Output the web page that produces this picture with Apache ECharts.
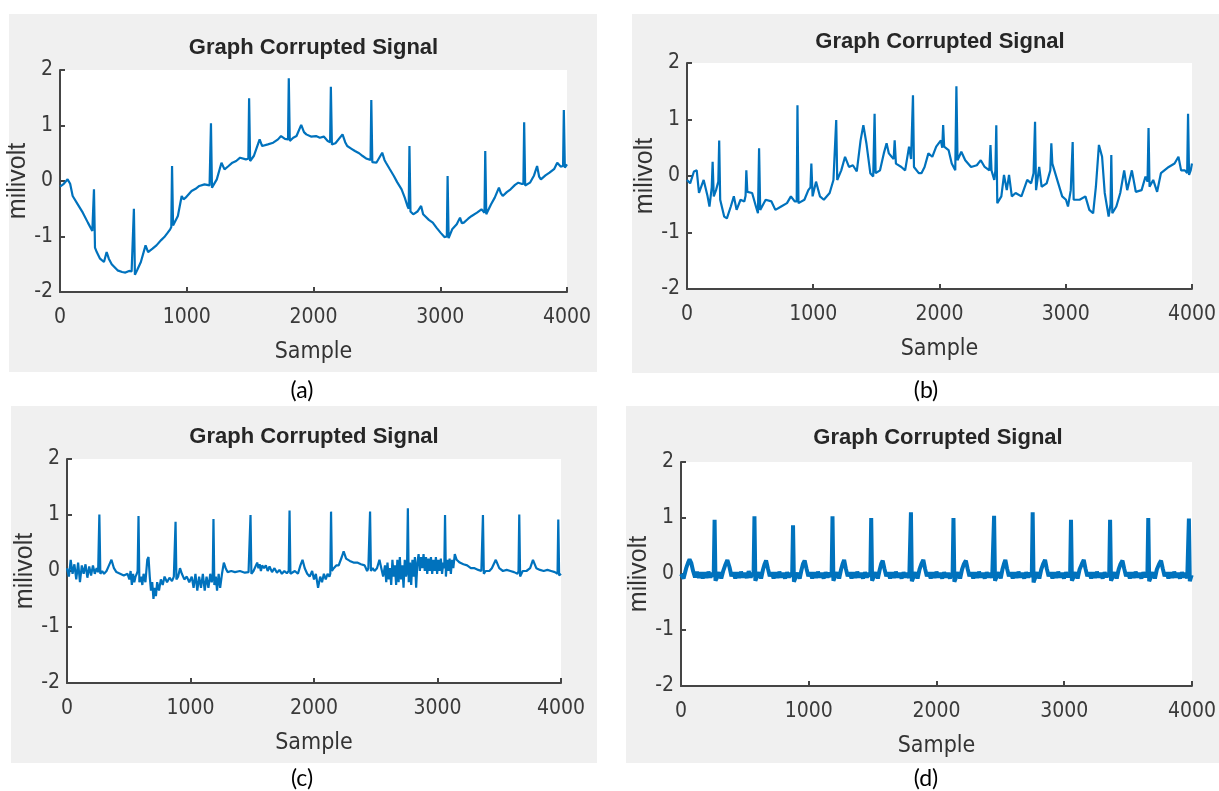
<!DOCTYPE html>
<html>
<head>
<meta charset="utf-8">
<title>Graph Corrupted Signal</title>
<script src="https://cdn.jsdelivr.net/npm/echarts@6/dist/echarts.min.js"></script>
<style>
  html, body { margin: 0; padding: 0; background: #fff; }
  #main { width: 1219px; height: 791px; }
</style>
</head>
<body>
<div id="main"></div>
<script>
// x ticks, y ticks
const sampleTicks = [0, 1000, 2000, 3000, 4000]
const voltTicks = [-2, -1, 0, 1, 2]
const captions = ['(a)', '(b)', '(c)', '(d)']

// (a) baseline wander
const signalA = [
  [0,-0.1],[30,-0.05],[60,0.03],[80,-0.05],[100,-0.27],[140,-0.42],[180,-0.57],[220,-0.75],[255,-0.9],
  [262,-0.93],[268,-0.15],[276,-1.2],[290,-1.28],[316,-1.4],[347,-1.46],[368,-1.28],[385,-1.4],[408,-1.5],
  [454,-1.61],[490,-1.64],[516,-1.65],[545,-1.62],[565,-1.63],[575,-1.66],[583,-0.5],[591,-1.69],[610,-1.6],
  [638,-1.46],[675,-1.16],[695,-1.28],[730,-1.22],[761,-1.16],[800,-1.06],[823,-1.01],[850,-0.93],[869,-0.87],
  [878,-0.83],[884,0.27],[892,-0.8],[930,-0.63],[960,-0.27],[975,-0.33],[991,-0.3],[1038,-0.18],[1070,-0.14],
  [1099,-0.09],[1140,-0.06],[1180,-0.08],[1185,-0.1],[1191,1.04],[1199,-0.12],[1237,0.03],[1274,0.33],[1298,0.21],
  [1330,0.27],[1360,0.33],[1390,0.36],[1421,0.42],[1467,0.39],[1486,0.4],[1492,1.49],[1500,0.36],[1529,0.45],
  [1575,0.75],[1595,0.63],[1640,0.66],[1682,0.69],[1720,0.75],[1744,0.81],[1775,0.76],[1799,0.75],[1805,1.85],
  [1813,0.72],[1840,0.78],[1866,0.81],[1903,1.01],[1925,0.88],[1943,0.84],[1980,0.8],[2020,0.81],[2050,0.78],
  [2081,0.8],[2112,0.72],[2131,0.7],[2137,1.7],[2145,0.66],[2173,0.68],[2229,0.84],[2250,0.7],[2266,0.63],
  [2300,0.58],[2327,0.54],[2360,0.5],[2388,0.45],[2420,0.4],[2450,0.38],[2456,1.46],[2464,0.34],[2496,0.33],
  [2542,0.51],[2560,0.38],[2572,0.33],[2600,0.22],[2634,0.09],[2660,-0.02],[2695,-0.15],[2720,-0.3],[2741,-0.45],
  [2751,-0.5],[2757,0.63],[2765,-0.55],[2787,-0.6],[2820,-0.55],[2849,-0.45],[2865,-0.6],[2879,-0.63],[2910,-0.7],
  [2941,-0.75],[2970,-0.84],[3002,-0.93],[3033,-1.01],[3052,-1.0],[3058,0.09],[3066,-1.03],[3094,-0.87],[3130,-0.78],
  [3156,-0.66],[3170,-0.76],[3186,-0.75],[3220,-0.68],[3248,-0.63],[3290,-0.57],[3325,-0.51],[3349,-0.57],[3355,0.54],
  [3363,-0.6],[3401,-0.42],[3430,-0.3],[3463,-0.12],[3478,-0.22],[3493,-0.27],[3525,-0.2],[3555,-0.15],[3590,-0.07],
  [3616,-0.03],[3640,-0.05],[3656,-0.05],[3662,1.06],[3670,-0.08],[3708,-0.03],[3740,0.1],[3764,0.27],[3780,0.08],
  [3794,0.03],[3830,0.1],[3862,0.15],[3900,0.22],[3923,0.33],[3950,0.26],[3969,0.27],[3975,1.28],[3983,0.24],[4000,0.3]
]

// (b) motion artefact
const signalB = [
  [0,-0.07],[25,-0.13],[55,0.08],[77,0.1],[95,-0.3],[117,-0.16],[132,-0.07],[163,-0.36],[178,-0.54],[196,-0.2],
  [203,0.25],[212,-0.36],[230,-0.25],[248,-0.1],[255,0.63],[263,-0.42],[295,-0.72],[316,-0.75],[347,-0.54],[371,-0.36],
  [393,-0.6],[424,-0.42],[454,-0.45],[464,-0.35],[470,0.1],[478,-0.28],[516,-0.3],[546,-0.54],[562,-0.66],[571,0.49],
  [580,-0.6],[623,-0.42],[669,-0.45],[700,-0.6],[746,-0.54],[792,-0.48],[823,-0.36],[853,-0.45],[869,-0.45],[875,1.25],
  [883,-0.48],[930,-0.42],[961,-0.25],[978,-0.2],[985,0.22],[995,-0.36],[1022,-0.1],[1053,-0.36],[1084,-0.42],[1130,-0.3],
  [1160,-0.07],[1175,-0.1],[1182,0.99],[1190,-0.07],[1222,0.1],[1252,0.34],[1283,0.16],[1314,0.19],[1345,0.08],[1375,0.63],
  [1397,0.9],[1421,0.58],[1452,0.05],[1475,-0.01],[1486,1.1],[1494,0.05],[1529,0.1],[1559,0.4],[1581,0.58],[1599,0.4],
  [1621,0.34],[1637,0.3],[1645,0.63],[1655,0.22],[1698,0.16],[1728,0.1],[1759,0.52],[1775,0.3],[1790,1.43],[1798,0.16],
  [1836,0.05],[1857,0.05],[1882,0.16],[1912,0.4],[1943,0.34],[1974,0.52],[2011,0.63],[2022,0.5],[2029,0.9],[2037,0.52],
  [2072,0.46],[2097,0.22],[2125,0.1],[2134,1.59],[2143,0.28],[2173,0.43],[2204,0.28],[2250,0.16],[2296,0.19],[2327,0.28],
  [2358,0.16],[2395,0.1],[2404,0.55],[2412,0.1],[2434,-0.07],[2443,0.1],[2450,0.9],[2458,-0.48],[2490,-0.36],[2511,0.02],
  [2533,-0.25],[2551,0.02],[2573,-0.36],[2603,-0.3],[2649,-0.36],[2695,-0.07],[2726,-0.13],[2745,0.05],[2757,0.96],[2765,-0.25],
  [2790,0.16],[2809,-0.19],[2849,-0.13],[2878,0.1],[2886,0.58],[2894,0.22],[2941,-0.13],[2972,-0.36],[3002,-0.42],[3018,-0.54],
  [3040,-0.25],[3055,0.6],[3063,-0.42],[3110,-0.42],[3156,-0.36],[3187,-0.6],[3217,-0.66],[3239,-0.19],[3263,0.55],[3288,0.34],
  [3309,-0.3],[3340,-0.72],[3355,-0.5],[3361,0.37],[3369,-0.66],[3401,-0.54],[3432,-0.3],[3463,0.1],[3487,-0.25],[3524,0.1],
  [3555,-0.28],[3601,-0.25],[3632,-0.01],[3648,-0.1],[3656,0.85],[3664,-0.19],[3693,-0.07],[3724,-0.28],[3754,0.05],[3816,0.16],
  [3862,0.22],[3893,0.34],[3914,0.1],[3944,0.1],[3962,0.05],[3969,1.1],[3977,0.02],[3990,0.1],[4000,0.22]
]

// (c) muscle noise
const signalC = [
  [0,0.05],[15,-0.1],[30,0.2],[45,-0.05],[60,0.12],[75,-0.15],[90,0.15],[105,-0.2],[120,0.1],[135,-0.05],
  [150,0.12],[165,-0.12],[180,0.08],[195,-0.08],[210,0.1],[225,-0.05],[240,0.05],[252,-0.02],[262,1.01],[270,-0.05],
  [285,0.0],[300,-0.05],[320,0.0],[340,0.1],[360,0.2],[380,0.05],[400,-0.02],[430,-0.05],[460,-0.08],[490,-0.05],
  [505,-0.15],[515,0.0],[525,-0.25],[535,-0.05],[545,-0.2],[555,-0.1],[565,-0.05],[572,0.0],[579,0.98],[586,-0.2],
  [600,-0.1],[610,-0.25],[620,-0.05],[635,-0.2],[650,0.2],[660,0.25],[670,-0.1],[680,-0.35],[690,-0.2],[700,-0.5],
  [710,-0.3],[720,-0.45],[730,-0.2],[745,-0.35],[760,-0.15],[775,-0.25],[790,-0.1],[810,-0.2],[830,-0.12],[850,-0.18],
  [865,-0.1],[872,-0.12],[879,0.88],[886,-0.15],[900,-0.1],[915,0.05],[930,-0.05],[950,-0.15],[970,-0.1],[990,-0.2],
  [1010,-0.1],[1025,-0.3],[1040,-0.05],[1055,-0.35],[1070,-0.1],[1085,-0.3],[1100,-0.05],[1115,-0.35],[1130,-0.1],[1145,-0.3],
  [1160,-0.05],[1172,-0.2],[1180,-0.1],[1186,0.93],[1193,-0.25],[1205,-0.1],[1215,-0.35],[1228,-0.05],[1240,-0.3],[1255,-0.05],
  [1270,0.15],[1285,0.05],[1300,-0.02],[1330,0.0],[1360,-0.02],[1400,0.0],[1440,-0.03],[1470,-0.02],[1480,0.0],[1486,1.0],
  [1493,-0.05],[1510,0.0],[1540,0.15],[1550,0.05],[1560,0.12],[1570,0.0],[1580,0.1],[1595,0.05],[1610,0.1],[1625,0.0],
  [1640,0.08],[1660,-0.02],[1680,0.05],[1700,-0.03],[1720,0.02],[1740,-0.05],[1760,0.0],[1780,-0.04],[1795,0.0],[1802,1.08],
  [1809,-0.05],[1825,-0.02],[1845,0.0],[1870,-0.05],[1890,0.1],[1907,0.2],[1925,0.05],[1945,-0.05],[1965,-0.1],[1985,0.0],
  [2000,-0.15],[2015,-0.05],[2033,-0.3],[2050,-0.1],[2065,-0.2],[2080,-0.05],[2095,-0.15],[2110,-0.05],[2125,-0.1],[2132,-0.05],
  [2138,1.06],[2145,0.0],[2160,0.05],[2180,0.1],[2200,0.1],[2225,0.25],[2240,0.35],[2260,0.22],[2290,0.18],[2320,0.15],
  [2350,0.15],[2380,0.12],[2410,0.1],[2430,0.0],[2440,0.05],[2448,0.02],[2454,1.06],[2461,0.0],[2475,0.05],[2490,0.0],
  [2510,0.05],[2530,0.2],[2545,0.05],[2560,-0.1],[2575,0.1],[2585,-0.2],[2595,0.15],[2605,-0.15],[2615,0.05],[2625,-0.25],
  [2635,0.2],[2645,-0.1],[2655,0.1],[2665,-0.25],[2675,0.2],[2685,-0.2],[2695,0.25],[2705,-0.15],[2715,0.1],[2725,-0.3],
  [2735,0.2],[2745,-0.1],[2753,0.0],[2760,1.12],[2767,-0.2],[2777,0.15],[2787,-0.25],[2797,0.2],[2807,-0.1],[2817,0.25],
  [2827,-0.3],[2837,0.15],[2847,0.3],[2857,0.0],[2867,0.25],[2877,0.05],[2887,0.3],[2897,0.0],[2907,0.25],[2917,-0.05],
  [2927,0.22],[2937,0.0],[2947,0.25],[2957,-0.05],[2967,0.2],[2977,0.0],[2987,0.25],[2997,-0.05],[3007,0.2],[3017,0.0],
  [3027,0.22],[3037,-0.05],[3047,0.15],[3055,0.05],[3061,1.0],[3068,-0.1],[3078,0.2],[3088,0.0],[3098,0.22],[3108,-0.05],
  [3118,0.2],[3128,0.05],[3140,0.3],[3155,0.2],[3180,0.15],[3210,0.12],[3240,0.1],[3270,0.05],[3300,0.05],[3330,0.02],
  [3355,0.0],[3362,0.0],[3368,1.0],[3375,-0.05],[3390,0.0],[3420,0.0],[3440,0.05],[3472,0.2],[3500,0.05],[3530,0.0],
  [3560,0.02],[3590,0.0],[3620,-0.02],[3648,-0.05],[3656,0.0],[3662,1.01],[3669,-0.1],[3690,0.0],[3720,0.0],[3750,0.05],
  [3773,0.2],[3800,0.05],[3830,0.02],[3860,0.0],[3890,0.02],[3920,0.0],[3950,-0.02],[3965,-0.05],[3972,-0.05],[3978,0.92],
  [3985,-0.08],[4000,-0.05]
]

// (d) white noise
const signalD = [
  [0,0.0],[20,-0.08],[40,0.1],[55,0.2],[67,0.26],[80,0.2],[95,0.05],[110,-0.06],[125,0.04],[140,-0.07],
  [155,0.03],[170,-0.08],[185,0.03],[200,-0.07],[215,0.04],[230,-0.06],[245,0.02],[256,-0.05],[263,0.97],[270,-0.12],
  [285,-0.05],[300,0.03],[315,-0.08],[330,0.05],[345,0.15],[363,0.25],[380,0.12],[395,-0.04],[410,0.03],[425,-0.08],
  [440,0.03],[455,-0.07],[470,0.04],[485,-0.06],[500,0.02],[515,-0.07],[530,0.05],[545,-0.06],[560,0.02],[568,-0.04],
  [575,1.03],[582,-0.12],[597,-0.04],[612,0.03],[627,-0.08],[642,0.08],[655,0.18],[666,0.24],[680,0.1],[695,-0.04],
  [710,0.03],[725,-0.08],[740,0.03],[755,-0.07],[770,0.04],[785,-0.06],[800,0.02],[815,-0.08],[830,0.03],[845,-0.06],
  [860,0.02],[870,-0.05],[877,0.87],[884,-0.14],[899,-0.05],[914,0.02],[929,-0.08],[944,0.08],[955,0.18],[968,0.24],
  [982,0.1],[997,-0.04],[1012,0.03],[1027,-0.08],[1042,0.03],[1057,-0.07],[1072,0.04],[1087,-0.06],[1102,0.02],[1117,-0.08],
  [1132,0.03],[1147,-0.06],[1162,0.02],[1179,-0.05],[1186,1.03],[1193,-0.12],[1208,-0.04],[1223,0.03],[1238,-0.08],[1253,0.08],
  [1265,0.18],[1277,0.25],[1290,0.1],[1305,-0.04],[1320,0.03],[1335,-0.08],[1350,0.03],[1365,-0.07],[1380,0.04],[1395,-0.06],
  [1410,0.02],[1425,-0.08],[1440,0.03],[1455,-0.06],[1470,0.02],[1482,-0.05],[1489,1.0],[1496,-0.12],[1511,-0.04],[1526,0.03],
  [1541,-0.08],[1556,0.08],[1567,0.18],[1579,0.24],[1592,0.1],[1607,-0.04],[1622,0.03],[1637,-0.08],[1652,0.03],[1667,-0.07],
  [1682,0.04],[1697,-0.06],[1712,0.02],[1727,-0.08],[1742,0.03],[1757,-0.06],[1772,0.02],[1787,-0.07],[1793,-0.05],[1800,1.1],
  [1807,-0.13],[1822,-0.05],[1837,0.03],[1852,-0.08],[1867,0.08],[1882,0.18],[1897,0.25],[1910,0.1],[1925,-0.04],[1940,0.03],
  [1955,-0.08],[1970,0.03],[1985,-0.07],[2000,0.04],[2015,-0.06],[2030,0.02],[2045,-0.08],[2060,0.03],[2075,-0.06],[2090,0.02],
  [2105,-0.08],[2118,0.02],[2126,-0.05],[2133,1.0],[2140,-0.14],[2155,-0.05],[2170,0.03],[2185,-0.08],[2200,0.08],[2215,0.18],
  [2230,0.24],[2243,0.1],[2258,-0.04],[2273,0.03],[2288,-0.08],[2303,0.03],[2318,-0.07],[2333,0.04],[2348,-0.06],[2363,0.02],
  [2378,-0.08],[2393,0.03],[2408,-0.06],[2423,0.02],[2436,-0.07],[2444,-0.05],[2451,1.04],[2458,-0.12],[2473,-0.04],[2488,0.03],
  [2503,-0.08],[2516,0.08],[2528,0.18],[2539,0.25],[2552,0.1],[2567,-0.04],[2582,0.03],[2597,-0.08],[2612,0.03],[2627,-0.07],
  [2642,0.04],[2657,-0.06],[2672,0.02],[2687,-0.08],[2702,0.03],[2717,-0.06],[2732,0.02],[2746,-0.05],[2753,1.1],[2760,-0.15],
  [2775,-0.05],[2790,0.03],[2805,-0.08],[2820,0.08],[2835,0.18],[2850,0.25],[2863,0.1],[2878,-0.04],[2893,0.03],[2908,-0.08],
  [2923,0.03],[2938,-0.07],[2953,0.04],[2968,-0.06],[2983,0.02],[2998,-0.08],[3013,0.03],[3028,-0.06],[3040,0.02],[3046,-0.05],
  [3053,0.97],[3060,-0.12],[3075,-0.05],[3090,0.03],[3105,-0.08],[3120,0.08],[3138,0.18],[3153,0.25],[3166,0.1],[3181,-0.04],
  [3196,0.03],[3211,-0.08],[3226,0.03],[3241,-0.07],[3256,0.04],[3271,-0.06],[3286,0.02],[3301,-0.08],[3316,0.03],[3331,-0.06],
  [3344,0.02],[3352,-0.05],[3359,0.97],[3366,-0.12],[3381,-0.05],[3396,0.03],[3411,-0.08],[3426,0.08],[3441,0.18],[3456,0.24],
  [3469,0.1],[3484,-0.04],[3499,0.03],[3514,-0.08],[3529,0.03],[3544,-0.07],[3559,0.04],[3574,-0.06],[3589,0.02],[3604,-0.08],
  [3619,0.03],[3634,-0.06],[3645,0.02],[3651,-0.05],[3658,1.0],[3665,-0.13],[3680,-0.05],[3695,0.03],[3710,-0.08],[3725,0.08],
  [3743,0.18],[3758,0.24],[3771,0.1],[3786,-0.04],[3801,0.03],[3816,-0.08],[3831,0.03],[3846,-0.07],[3861,0.04],[3876,-0.06],
  [3891,0.02],[3906,-0.08],[3921,0.03],[3936,-0.06],[3951,0.02],[3963,-0.08],[3969,-0.05],[3976,0.99],[3983,-0.13],[3995,-0.04],
  [4000,-0.06]
]

const NARROW = "'Liberation Sans Narrow','DejaVu Sans Condensed','Liberation Sans',sans-serif"
const SANS = "'Liberation Sans',Arial,sans-serif"
const AXIS_COLOR = '#454545'
const LINE_COLOR = '#0072BD'

// panel boxes: gray figure area and the axes inside it
const panels = [
  { bg: [9, 14, 588, 358], grid: [60, 70, 507, 222], titleY: 48, capX: 302, capY: 391, data: signalA, width: 2.2 },
  { bg: [632, 14, 587, 359], grid: [687, 63, 506, 226], titleY: 42, capX: 926, capY: 391, data: signalB, width: 2.2 },
  { bg: [11, 406, 586, 357], grid: [67, 459, 494, 224], titleY: 437, capX: 302, capY: 779, data: signalC, width: 2.2 },
  { bg: [626, 406, 593, 357], grid: [681, 462, 514, 224], titleY: 438, capX: 926, capY: 779, data: signalD, width: 4 },
]

const chart = echarts.init(document.getElementById('main'))

const graphic = []
panels.forEach((p, i) => {
  graphic.push({
    type: 'rect', z: -10, silent: true,
    shape: { x: p.bg[0], y: p.bg[1], width: p.bg[2], height: p.bg[3] },
    style: { fill: '#f0f0f0' },
  })
  graphic.push({
    type: 'text', x: p.grid[0] + p.grid[2] / 2, y: p.titleY,
    style: {
      text: 'Graph Corrupted Signal', align: 'center', verticalAlign: 'middle',
      font: 'bold 22px ' + SANS, fill: '#262626',
    },
  })
  graphic.push({
    type: 'text', x: p.capX, y: p.capY,
    style: {
      text: captions[i], align: 'center', verticalAlign: 'middle',
      font: '23px Lato, ' + SANS, fill: '#000',
    },
  })
})

const option = {
  animation: false,
  backgroundColor: '#fff',
  graphic: graphic,
  grid: panels.map(p => ({
    left: p.grid[0], top: p.grid[1], width: p.grid[2], height: p.grid[3],
    show: true, backgroundColor: '#fff', borderWidth: 0,
  })),
  xAxis: panels.map((p, i) => ({
    type: 'value', gridIndex: i,
    min: sampleTicks[0], max: sampleTicks[sampleTicks.length - 1], interval: 1000,
    name: 'Sample', nameLocation: 'middle', nameGap: 49,
    nameTextStyle: { fontFamily: NARROW, fontSize: 23, color: '#333' },
    axisLine: { show: true, onZero: false, lineStyle: { color: AXIS_COLOR, width: 2 } },
    axisTick: { show: true, inside: true, length: 5, lineStyle: { color: AXIS_COLOR, width: 2 } },
    axisLabel: { margin: 15, fontFamily: NARROW, fontSize: 21, color: '#3a3a3a', formatter: v => String(v) },
    splitLine: { show: false },
  })),
  yAxis: panels.map((p, i) => ({
    type: 'value', gridIndex: i,
    min: voltTicks[0], max: voltTicks[voltTicks.length - 1], interval: 1,
    name: 'milivolt', nameLocation: 'middle', nameGap: 25,
    nameTextStyle: { fontFamily: SANS, fontSize: 25, color: '#333' },
    axisLine: { show: true, onZero: false, lineStyle: { color: AXIS_COLOR, width: 2 } },
    axisTick: { show: true, inside: true, length: 5, lineStyle: { color: AXIS_COLOR, width: 2 } },
    axisLabel: { margin: 7, fontFamily: NARROW, fontSize: 21, color: '#3a3a3a', formatter: v => String(v) },
    splitLine: { show: false },
  })),
  series: panels.map((p, i) => ({
    type: 'line', xAxisIndex: i, yAxisIndex: i,
    data: p.data, symbol: 'none', showSymbol: false,
    lineStyle: { color: LINE_COLOR, width: p.width },
  })),
}

chart.setOption(option)
</script>
</body>
</html>
